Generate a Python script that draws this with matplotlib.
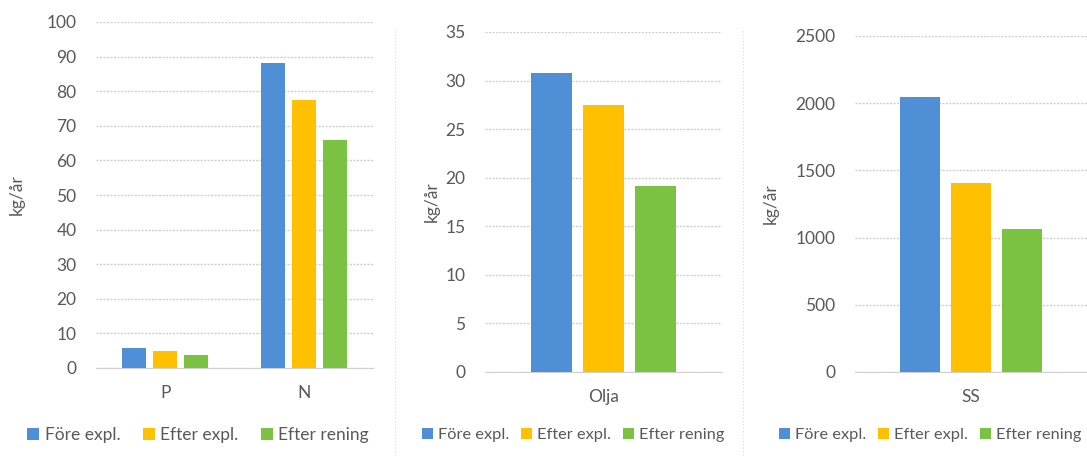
import numpy as np
import matplotlib
matplotlib.use('Agg')
import matplotlib.pyplot as plt
from matplotlib.lines import Line2D
from matplotlib.patches import Patch

plt.rcParams['font.family'] = ['Lato', 'DejaVu Sans']

series = ['Före expl.', 'Efter expl.', 'Efter rening']
colors = ['#4f8fd6', '#ffc000', '#7cc242']

# panel 1: P and N
cats1 = ['P', 'N']
vals1 = [[5.8, 88.1], [4.9, 77.4], [3.7, 65.9]]
# panel 2: oil
cats2 = ['Olja']
vals2 = [[30.8], [27.5], [19.1]]
# panel 3: suspended solids
cats3 = ['SS']
vals3 = [[2048], [1408], [1066]]

W, H = 1087, 459
fig = plt.figure(figsize=(W / 100, H / 100), dpi=100)
fig.patch.set_facecolor('white')

txt = '#595959'
grid_c = '#cfcfcf'
fs = 12.5


def px_axes(x0, x1, ytop, ybot):
    return fig.add_axes([x0 / W, 1 - ybot / H, (x1 - x0) / W, (ybot - ytop) / H])


def draw(ax, cats, vals, ymax, ystep, step, width):
    x = np.arange(len(cats))
    for i, (v, c) in enumerate(zip(vals, colors)):
        ax.bar(x + (i - 1) * step, v, width=width, color=c, zorder=3, label=series[i])
    ax.set_xlim(-0.5, len(cats) - 0.5)
    ax.set_ylim(0, ymax)
    ax.set_yticks(np.arange(0, ymax + ystep / 2, ystep))
    ax.set_xticks(x)
    ax.set_xticklabels(cats)
    for sp in ['top', 'right', 'left']:
        ax.spines[sp].set_visible(False)
    ax.spines['bottom'].set_color('#d0d0d0')
    ax.yaxis.grid(True, color=grid_c, linestyle=(0, (1.5, 1)), linewidth=1.0, zorder=0)
    ax.tick_params(axis='both', length=0, colors=txt, labelsize=fs)
    ax.tick_params(axis='y', pad=14)
    ax.tick_params(axis='x', pad=12)


ax1 = px_axes(96, 373, 22, 368)
draw(ax1, cats1, vals1, 100, 10, 0.224, 0.173)
ax1.set_ylabel('kg/år', color=txt, fontsize=fs)
ax1.yaxis.set_label_coords(-0.256, 0.5)

ax2 = px_axes(485, 722, 32, 372)
draw(ax2, cats2, vals2, 35, 5, 0.22, 0.17)
ax2.set_ylabel('kg/år', color=txt, fontsize=fs)
ax2.yaxis.set_label_coords(-0.19, 0.5)

ax3 = px_axes(855, 1087, 36, 372)
draw(ax3, cats3, vals3, 2500, 500, 0.22, 0.17)
ax3.set_ylabel('kg/år', color=txt, fontsize=fs)
ax3.yaxis.set_label_coords(-0.33, 0.5)

# legends
handles = [Patch(facecolor=c, edgecolor='none') for c in colors]
for cx, lfs, csp in [(198, 12.5, 1.3), (573, 11.8, 0.7), (930, 11.8, 0.7)]:
    fig.legend(handles, series, loc='center', bbox_to_anchor=(cx / W, 1 - 435 / H),
               ncol=3, frameon=False, fontsize=lfs, labelcolor=txt,
               handlelength=0.7, handleheight=0.7, handletextpad=0.3,
               columnspacing=csp, borderpad=0.1)

# dotted chart-area borders between panels
for xb in [395, 743]:
    fig.add_artist(Line2D([xb / W, xb / W], [1 - 455 / H, 1 - 28 / H],
                          color='#d8d8d8', linestyle=(0, (1, 2)), linewidth=0.8))

fig.savefig('out.png', dpi=100, facecolor='white')
